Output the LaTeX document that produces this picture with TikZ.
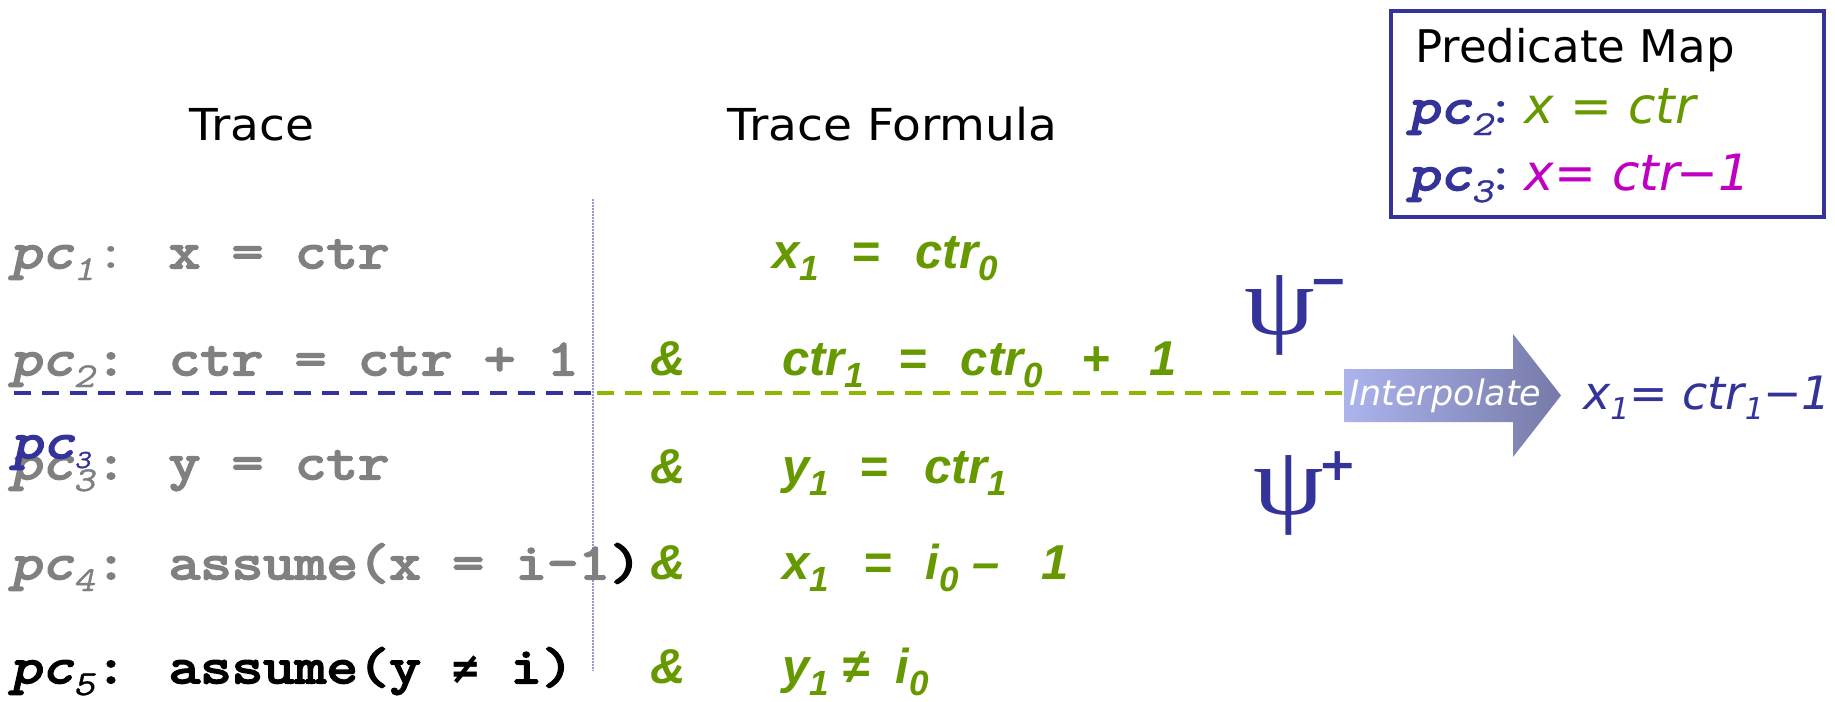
\documentclass[tikz,border=0pt]{standalone}
\usepackage{fontspec}
\setmainfont{DejaVu Sans}
\newfontfamily\monof[FakeStretch=1.2, AutoFakeBold=4]{Latin Modern Mono}
\newfontfamily\monoslb[FakeStretch=1.2, FakeBold=4, FakeSlant=0.22]{Latin Modern Mono}
\newfontfamily\monosl[FakeStretch=1.2, FakeBold=1, FakeSlant=0.22]{Latin Modern Mono}
\newfontfamily\dvmonof{DejaVu Sans Mono}
\newfontfamily\arialf{Liberation Sans}
\newfontfamily\dvf{DejaVu Sans}
\newfontfamily\hdrf[FakeStretch=1.07]{DejaVu Sans}
\newfontfamily\serf[FakeStretch=1.15]{Liberation Serif}
\definecolor{pgray}{RGB}{128,128,128}
\definecolor{pblue}{RGB}{51,51,153}
\definecolor{pgreen}{RGB}{102,153,0}
\definecolor{lgreen}{RGB}{140,182,0}
\definecolor{pmag}{RGB}{192,0,192}
\definecolor{dotc}{RGB}{150,150,210}
\definecolor{arrLc}{RGB}{172,180,238}
\definecolor{arrRc}{RGB}{118,122,168}
\newcommand\pcs[2][22pt]{{\mdseries\monoslb pc}\makebox[#1][l]{\raisebox{-12pt}{\mdseries\monosl\fontsize{35}{35}\selectfont #2}}}
\newcommand\fs[1]{\raisebox{-12pt}{\fontsize{35}{35}\selectfont #1}}
\newcommand\ds[1]{\raisebox{-10pt}{\fontsize{30}{30}\selectfont #1}}
\tikzset{
  txt/.style={anchor=base west, inner sep=0pt},
  trace/.style={txt, font=\monof\bfseries\fontsize{51}{51}\selectfont},
  formula/.style={txt, text=pgreen, font=\arialf\bfseries\itshape\fontsize{49}{49}\selectfont},
  header/.style={txt, font=\hdrf\fontsize{44}{44}\selectfont},
  psisym/.style={txt, text=pblue, font=\serf\fontsize{98}{98}\selectfont},
  psisign/.style={inner sep=0pt, text=pblue, font=\dvf\bfseries\fontsize{46}{46}\selectfont},
  bdash/.style={draw=pblue, line width=4.5pt, dash pattern=on 17pt off 11pt},
  gdash/.style={draw=lgreen, line width=4.5pt, dash pattern=on 17pt off 11pt},
  vdot/.style={draw=dotc, line width=1.5pt, dash pattern=on 1.5pt off 1.5pt},
}
\begin{document}
\begin{tikzpicture}[x=1pt,y=1pt]
\useasboundingbox (0,0) rectangle (1835,-701);
% headers
\node[header] (h1) at (189,-140) {Trace};
\node[header] (h2) at (727,-140) {Trace Formula};
% predicate map box
\node[draw=pblue, line width=4pt, minimum width=433pt, minimum height=206pt, inner sep=0pt] (pmap) at (1607.5,-114) {};
\node[txt, font=\dvf\fontsize{45}{45}\selectfont] (pmt) at (1415,-63) {Predicate Map};
\node[txt] (pm2) at (1408,-123) {\textcolor{pblue}{\monof\fontsize{51}{51}\selectfont\pcs[14pt]{2}\mdseries:}\hspace{8pt}\textcolor{pgreen}{\dvf\itshape\fontsize{50}{50}\selectfont x = ctr}};
\node[txt] (pm3) at (1408,-190) {\textcolor{pblue}{\monof\fontsize{51}{51}\selectfont\pcs[14pt]{3}\mdseries:}\hspace{8pt}\textcolor{pmag}{\dvf\itshape\fontsize{50}{50}\selectfont x= ctr\kern-3pt−1}};
% separator lines
\coordinate (vt) at (593,-199);
\coordinate (vb) at (593,-671);
\draw[vdot] (vt) -- (vb);
% trace rows
\node[trace, text=pgray] (t1) at (10,-268) {\pcs{1}{\mdseries:} x = ctr};
\node[trace, text=pgray] (t2) at (10,-375) {\pcs{2}: ctr = ctr + 1};
\node[trace, text=pgray] (t3) at (10,-479) {\pcs{3}: y = ctr};
\node[trace, text=pblue] (b3) at (11,-458) {{\mdseries\monoslb pc}\raisebox{-10pt}{\mdseries\monosl\fontsize{26}{26}\selectfont 3}};
\node[trace, text=pgray] (t4) at (10,-579) {\pcs{4}: assume(x = i-1\textcolor{black}{)}};
\node[trace, text=black] (t5) at (10,-683) {\pcs{5}: assume(y {\dvmonof\fontsize{44}{44}\selectfont ≠} i)};
% formula rows
\node[formula] (f1) at (772,-268) {x\fs{1}\hspace{33pt}=\hspace{35pt}ctr\fs{0}};
\node[formula] (a2) at (650,-375) {\&};
\node[formula] (f2) at (782,-375) {ctr\fs{1}\hspace{34pt}=\hspace{34pt}ctr\fs{0}\hspace{38pt}+\hspace{40pt}1};
\node[formula] (a3) at (650,-483) {\&};
\node[formula] (f3) at (782,-483) {y\fs{1}\hspace{31pt}=\hspace{36pt}ctr\fs{1}};
\node[formula] (a4) at (650,-579) {\&};
\node[formula] (f4) at (782,-579) {x\fs{1}\hspace{35pt}=\hspace{33pt}i\fs{0}\hspace{14pt}–\hspace{42pt}1};
\node[formula] (a5) at (650,-683) {\&};
\node[formula] (f5) at (782,-683) {y\fs{1}\hspace{14pt}≠\hspace{26pt}i\fs{0}};
% psi
\node[psisym] (psim) at (1244,-334) {ψ};
\node[psisign] (psimsign) at (1329,-288) {−};
\node[psisym] (psip) at (1253,-514) {ψ};
\node[psisign] (psipsign) at (1338,-466) {+};
% arrow
\shade[left color=arrLc, right color=arrRc] (1344,-369) -- (1513,-369) -- (1513,-334) -- (1561,-395.5) -- (1513,-457) -- (1513,-422) -- (1344,-422) -- cycle;
\node[txt, text=white, font=\dvf\itshape\fontsize{35}{35}\selectfont] (interp) at (1349,-405) {Interpolate};
\coordinate (arrowin) at (1344,-393);
\coordinate (dl) at (14,-393);
\coordinate (dm) at (597,-393);
\draw[bdash] (dl) -- (dm);
\draw[gdash] (dm) -- (arrowin);
% result
\node[txt, text=pblue, font=\dvf\itshape\fontsize{46}{46}\selectfont] (res) at (1583,-409) {x\ds{1}= ctr\ds{1}\kern-1pt−1};
\end{tikzpicture}
\end{document}
